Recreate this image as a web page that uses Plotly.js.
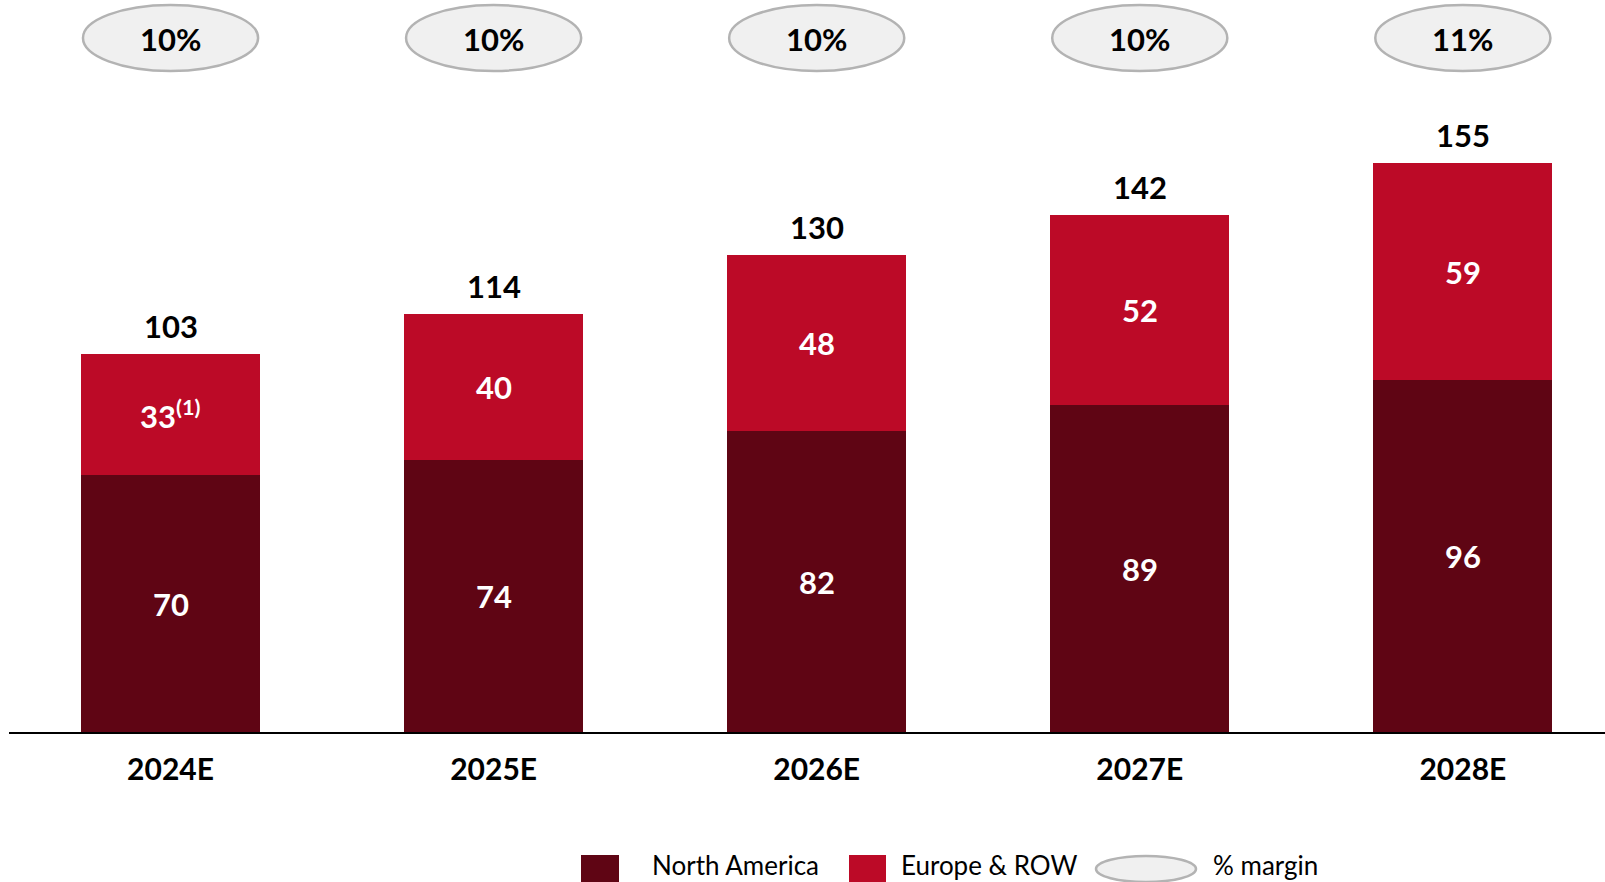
<!DOCTYPE html>
<html>
<head>
<meta charset="utf-8">
<script src="https://cdn.plot.ly/plotly-3.0.1.min.js"></script>
<style>html,body{margin:0;padding:0;background:#fff;}#chart{width:1605px;height:882px;}</style>
</head>
<body>
<div id="chart"></div>
<script>
const categories = ['2024E', '2025E', '2026E', '2027E', '2028E'];
const northAmerica = [70, 74, 82, 89, 96];
const europeRow = [33, 40, 48, 52, 59];
const europeNotes = ['(1)', '', '', '', ''];
const totals = [103, 114, 130, 142, 155];
const margins = ['10%', '10%', '10%', '10%', '11%'];

const DARK = '#5f0514';
const RED = '#bc0a27';
const FONT = 'Lato, "Open Sans", sans-serif';

const W = 1605, PLOT_L = 9, PLOT_H = 732;
const px2paperX = px => (px - PLOT_L) / (W - PLOT_L);
const px2paperY = py => (PLOT_H - py) / PLOT_H;

const xIdx = categories.map((c, i) => i);

const traces = [
  {type: 'bar', x: xIdx, y: northAmerica, name: 'North America',
   marker: {color: DARK}, hoverinfo: 'skip', showlegend: false},
  {type: 'bar', x: xIdx, y: europeRow, name: 'Europe & ROW',
   marker: {color: RED}, hoverinfo: 'skip', showlegend: false}
];

const annotations = [];
const shapes = [];

categories.forEach((c, i) => {
  annotations.push({x: i, y: northAmerica[i] / 2, xref: 'x', yref: 'y', showarrow: false,
    yanchor: 'middle', xanchor: 'center',
    text: '<b>' + northAmerica[i] + '</b>', font: {family: FONT, size: 31, color: '#fff'}});
  const note = europeNotes[i] ? '<sup>' + europeNotes[i] + '</sup>' : '';
  annotations.push({x: i, y: northAmerica[i] + europeRow[i] / 2, xref: 'x', yref: 'y', showarrow: false,
    yanchor: 'middle', xanchor: 'center',
    text: '<b>' + europeRow[i] + note + '</b>', font: {family: FONT, size: 31, color: '#fff'}});
  annotations.push({x: i, y: northAmerica[i] + europeRow[i], xref: 'x', yref: 'y', showarrow: false,
    yanchor: 'bottom', xanchor: 'center', yshift: 7,
    text: '<b>' + totals[i] + '</b>', font: {family: FONT, size: 31, color: '#000'}});
  shapes.push({type: 'circle', xref: 'x', yref: 'paper', x0: i - 0.271, x1: i + 0.271,
    y0: px2paperY(71), y1: px2paperY(5), fillcolor: '#f0f0f0',
    line: {color: '#b3b3b3', width: 2.5}, layer: 'above'});
  annotations.push({x: i, y: px2paperY(39), xref: 'x', yref: 'paper', showarrow: false,
    yanchor: 'middle', xanchor: 'center',
    text: '<b>' + margins[i] + '</b>', font: {family: FONT, size: 31, color: '#000'}});
});

// legend (manual)
const legY0 = px2paperY(892), legY1 = px2paperY(855);
shapes.push({type: 'rect', xref: 'paper', yref: 'paper', x0: px2paperX(581), x1: px2paperX(619),
  y0: legY0, y1: legY1, fillcolor: DARK, line: {width: 0}});
shapes.push({type: 'rect', xref: 'paper', yref: 'paper', x0: px2paperX(849), x1: px2paperX(886),
  y0: legY0, y1: legY1, fillcolor: RED, line: {width: 0}});
shapes.push({type: 'circle', xref: 'paper', yref: 'paper', x0: px2paperX(1096), x1: px2paperX(1196),
  y0: px2paperY(882), y1: px2paperY(856), fillcolor: '#f0f0f0', line: {color: '#b3b3b3', width: 2.5}});
const legText = [['North America', 650], ['Europe & ROW', 899], ['% margin', 1211]];
legText.forEach(([t, x]) => {
  annotations.push({x: px2paperX(x), y: px2paperY(865), xref: 'paper', yref: 'paper', showarrow: false,
    xanchor: 'left', yanchor: 'middle', text: t, font: {family: FONT, size: 26, color: '#000'}});
});

const layout = {
  width: 1605, height: 882,
  margin: {l: PLOT_L, r: 0, t: 0, b: 882 - PLOT_H},
  paper_bgcolor: '#fff', plot_bgcolor: '#fff',
  barmode: 'stack', bargap: 0.446,
  showlegend: false,
  xaxis: {range: [-0.5, 4.44], tickmode: 'array', tickvals: xIdx,
    ticktext: categories.map(c => '<b>' + c + '</b>'),
    tickfont: {family: FONT, size: 30, color: '#000'},
    showline: true, linecolor: '#000', linewidth: 2, showgrid: false, zeroline: false,
    ticks: '', ticklabelstandoff: 10, fixedrange: true},
  yaxis: {range: [0, 199.5], visible: false, showgrid: false, zeroline: false, fixedrange: true},
  annotations: annotations,
  shapes: shapes
};

Plotly.newPlot('chart', traces, layout, {displayModeBar: false, staticPlot: true});
</script>
</body>
</html>
